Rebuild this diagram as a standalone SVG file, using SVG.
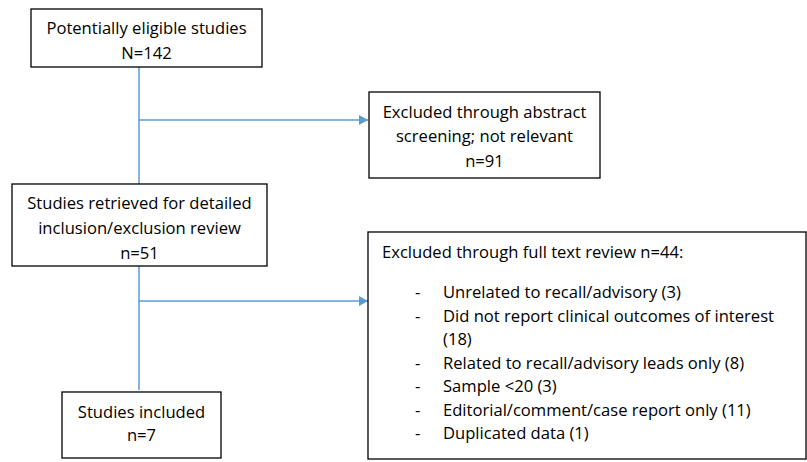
<svg xmlns="http://www.w3.org/2000/svg" width="807" height="462" viewBox="0 0 807 462">
<defs>
<style>
.box{fill:#fff;stroke:#000;stroke-width:1.3}
.t{font-family:"Open Sans","Liberation Sans",sans-serif;font-size:16.6px;fill:#000}
.c{text-anchor:middle}
.ln{stroke:#5B9BD5;stroke-width:1.5;fill:none}
</style>
<marker id="ah" markerUnits="userSpaceOnUse" markerWidth="10" markerHeight="12" refX="9" refY="5" orient="auto">
<path d="M0,0 L9,5 L0,10 Z" fill="#5B9BD5"/>
</marker>
</defs>
<rect width="807" height="462" fill="#fff"/>
<g id="connectors">
<line class="ln" x1="139" y1="67" x2="139" y2="184"/>
<line class="ln" x1="139" y1="120" x2="368" y2="120" marker-end="url(#ah)"/>
<line class="ln" x1="139" y1="266" x2="139" y2="390"/>
<line class="ln" x1="139" y1="301" x2="368" y2="301" marker-end="url(#ah)"/>
</g>
<g id="n1">
<rect class="box" x="31" y="9" width="231" height="58"/>
<text class="t c" x="146.5" y="34">Potentially eligible studies</text>
<text class="t c" x="146.5" y="59">N=142</text>
</g>
<g id="n2">
<rect class="box" x="369" y="92" width="231" height="86"/>
<text class="t c" x="484.5" y="118">Excluded through abstract</text>
<text class="t c" x="484.5" y="142">screening; not relevant</text>
<text class="t c" x="484.5" y="167">n=91</text>
</g>
<g id="n3">
<rect class="box" x="12" y="184" width="255" height="82"/>
<text class="t c" x="139.5" y="209">Studies retrieved for detailed</text>
<text class="t c" x="139.5" y="234">inclusion/exclusion review</text>
<text class="t c" x="139.5" y="259">n=51</text>
</g>
<g id="n4">
<rect class="box" x="368" y="232" width="438" height="227"/>
<text class="t" x="382" y="258">Excluded through full text review n=44:</text>
<text class="t" x="415" y="298">-</text><text class="t" x="443" y="298">Unrelated to recall/advisory (3)</text>
<text class="t" x="415" y="321.5">-</text><text class="t" x="443" y="321.5">Did not report clinical outcomes of interest</text>
<text class="t" x="443" y="345">(18)</text>
<text class="t" x="415" y="368.5">-</text><text class="t" x="443" y="368.5">Related to recall/advisory leads only (8)</text>
<text class="t" x="415" y="392">-</text><text class="t" x="443" y="392">Sample &lt;20 (3)</text>
<text class="t" x="415" y="415.5">-</text><text class="t" x="443" y="415.5">Editorial/comment/case report only (11)</text>
<text class="t" x="415" y="439">-</text><text class="t" x="443" y="439">Duplicated data (1)</text>
</g>
<g id="n5">
<rect class="box" x="62" y="392" width="159" height="66"/>
<text class="t c" x="141.5" y="418">Studies included</text>
<text class="t c" x="141.5" y="441">n=7</text>
</g>
</svg>
